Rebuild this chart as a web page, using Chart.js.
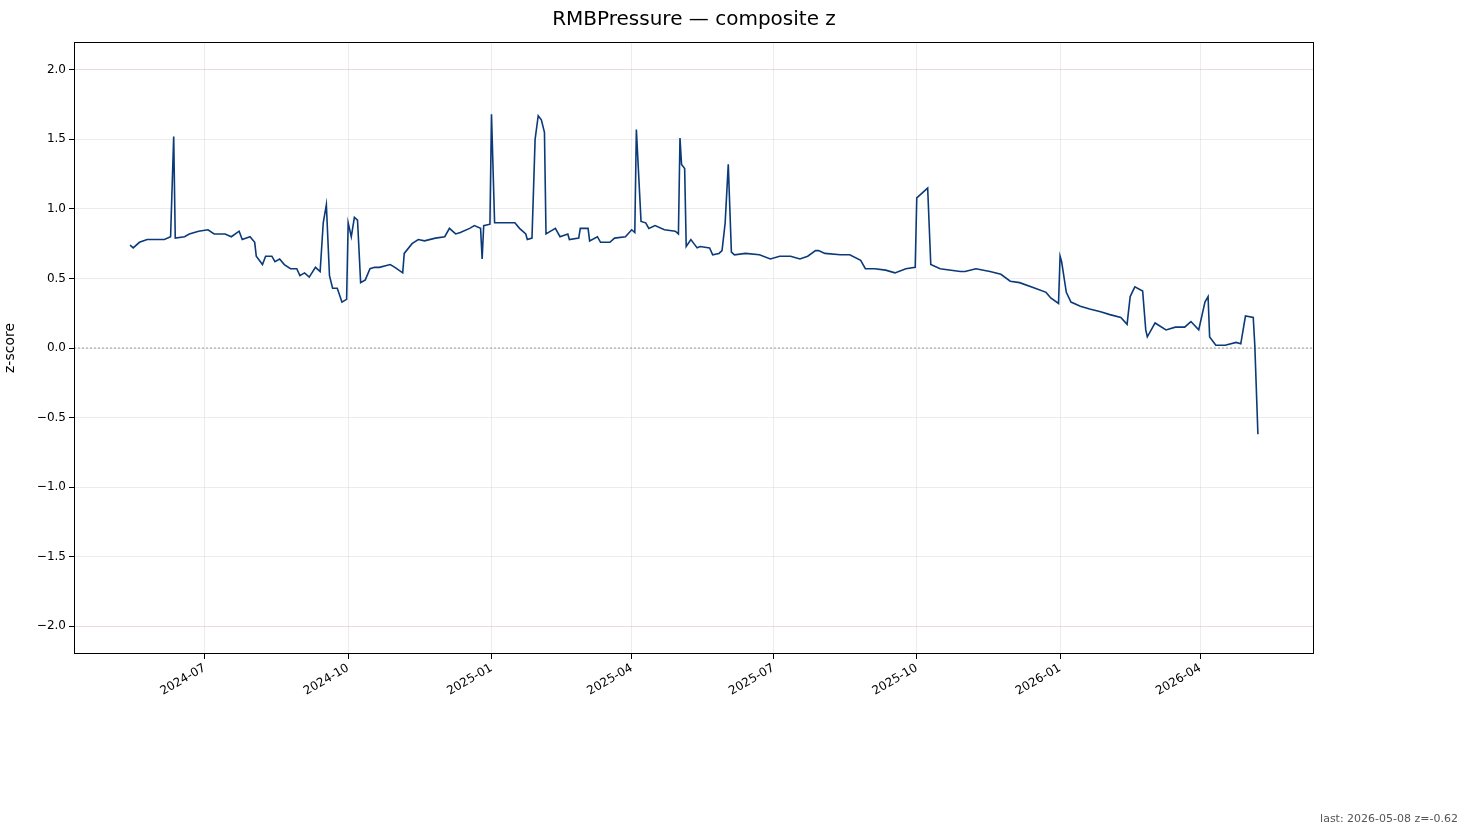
<!DOCTYPE html>
<html><head><meta charset="utf-8">
<script src="https://cdn.jsdelivr.net/npm/chart.js@4"></script>
<style>
html,body{margin:0;padding:0;background:#fff;font-family:"DejaVu Sans",sans-serif;}
#wrap{position:relative;width:1467px;height:835px;}
#title{position:absolute;top:6px;left:0;width:1388px;text-align:center;font-size:20px;color:#000;}
#foot{position:absolute;right:9px;bottom:10px;font-size:11px;color:#555;}
</style></head><body>
<div id="wrap"><canvas id="c" width="1467" height="835"></canvas>
<div id="title">RMBPressure — composite z</div>
<div id="foot">last: 2026-05-08 z=-0.62</div></div>
<script>
// days since 2024-07-01
const dayOffsets=[-48,-46,-42,-37,-32,-29,-26,-22,-20,-19,-13,-10,-4,2,6,13,17,22,24,29,32,33,37,39,43,45,48,51,55,59,61,64,67,71,74,76,78,80,82,85,88,91,92,94,96,98,100,103,106,109,112,119,122,127,128,133,137,141,148,154,157,161,164,170,173,177,178,179,183,184,186,199,202,206,207,210,212,214,216,218,219,222,225,228,233,234,240,241,246,247,252,254,260,263,270,274,276,277,280,283,285,289,295,302,304,305,306,308,309,312,316,318,324,326,330,332,334,336,338,340,347,356,363,369,376,382,387,392,394,398,408,414,421,424,430,437,443,450,456,457,462,464,466,472,485,488,495,504,511,517,523,533,540,543,548,549,550,553,556,562,568,575,581,588,592,594,597,602,604,605,610,617,623,629,633,638,642,644,645,649,655,662,665,668,673,674,676];
const zValues=[.74,.72,.76,.78,.78,.78,.78,.80,1.52,.79,.80,.82,.84,.85,.82,.82,.80,.84,.78,.80,.76,.66,.60,.66,.66,.62,.64,.60,.57,.57,.52,.54,.51,.58,.55,.90,1.03,.52,.43,.43,.33,.35,.90,.80,.94,.92,.47,.49,.57,.58,.58,.60,.58,.54,.68,.75,.78,.77,.79,.80,.86,.82,.83,.86,.88,.86,.64,.88,.89,1.68,.90,.90,.86,.82,.78,.79,1.50,1.67,1.64,1.55,.82,.84,.86,.80,.82,.78,.79,.86,.86,.77,.80,.76,.76,.79,.80,.85,.83,1.57,.91,.90,.86,.88,.85,.84,.82,1.51,1.32,1.29,.73,.78,.72,.73,.72,.67,.68,.70,.90,1.32,.69,.67,.68,.67,.64,.66,.66,.64,.66,.70,.70,.68,.67,.67,.63,.57,.57,.56,.54,.57,.58,1.08,1.13,1.15,.60,.57,.55,.55,.57,.55,.53,.48,.47,.43,.40,.36,.32,.66,.62,.40,.33,.30,.28,.26,.24,.22,.17,.37,.44,.41,.13,.08,.18,.13,.15,.15,.19,.13,.33,.37,.08,.02,.02,.04,.03,.23,.22,.02,-.62];
const tickDays=[0,92,184,274,365,457,549,639];
const tickLabels=["2024-07","2024-10","2025-01","2025-04","2025-07","2025-10","2026-01","2026-04"];
const yTicks=[-2,-1.5,-1,-0.5,0,0.5,1,1.5,2];
const xMin=-84,xMax=712;
const pts=dayOffsets.map((d,i)=>({x:d,y:zValues[i]}));
const frame={id:'frame',afterDraw(c){const a=c.chartArea,g=c.ctx;g.save();g.strokeStyle='#000';g.lineWidth=1;g.strokeRect(a.left+.5,a.top+.5,a.width-1,a.height-1);g.restore();}};
new Chart(document.getElementById('c'),{
type:'line',
data:{datasets:[
{data:pts,borderColor:'#0b3a78',borderWidth:1.6,pointRadius:0,tension:0,order:1},
{data:[{x:xMin,y:0},{x:xMax,y:0}],borderColor:'#888',borderWidth:0.8,borderDash:[2,2],pointRadius:0,order:2}
]},
options:{responsive:false,animation:false,
layout:{padding:{top:42,right:153,left:0,bottom:0}},
plugins:{legend:{display:false},tooltip:{enabled:false}},
scales:{
x:{type:'linear',min:xMin,max:xMax,
afterBuildTicks(s){s.ticks=tickDays.map(v=>({value:v}));},
afterFit(s){s.height=181;},
ticks:{callback:(v)=>{const i=tickDays.indexOf(v);return i>=0?tickLabels[i]:'';},maxRotation:30,minRotation:30,color:'#000',font:{size:12,family:'DejaVu Sans'},padding:2},
grid:{color:'rgba(200,200,200,0.35)',drawTicks:true,tickLength:5,tickColor:'#000'},border:{display:false}},
y:{min:-2.2,max:2.2,
afterBuildTicks(s){s.ticks=yTicks.map(v=>({value:v}));},
afterFit(s){s.width=74;},
title:{display:true,text:'z-score',color:'#000',font:{size:14,family:'DejaVu Sans'},padding:2},
ticks:{callback:v=>(v<0?'\u2212':'')+Math.abs(v).toFixed(1),color:'#000',font:{size:12,family:'DejaVu Sans'}},
grid:{color:(c)=>Math.abs(c.tick&&c.tick.value)==2?'rgba(220,180,200,0.5)':'rgba(200,200,200,0.35)',tickLength:5,tickColor:'#000'},border:{display:false}}
}},
plugins:[frame]
});
</script></body></html>
